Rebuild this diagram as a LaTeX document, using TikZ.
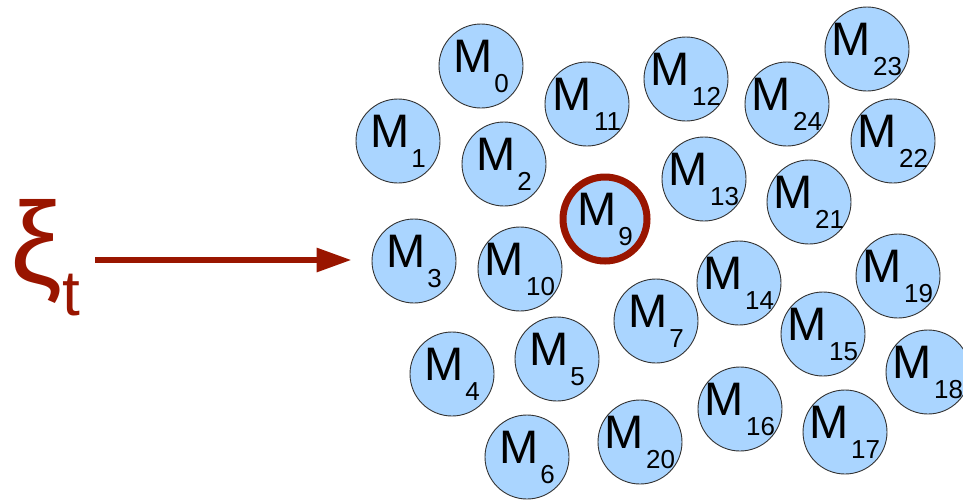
\documentclass[tikz,border=0pt]{standalone}
\usepackage{fontspec}
\setmainfont{Liberation Sans}
\usepackage{xcolor}
\usepackage{tikz}
\usetikzlibrary{arrows.meta}

\definecolor{celula}{RGB}{170,213,255}
\definecolor{vermelho}{RGB}{153,21,0}
\newcommand{\mlab}[1]{{\fontsize{47}{47}\selectfont M}\kern2pt\raisebox{-20pt}{\fontsize{26}{26}\selectfont #1}}

\tikzset{
  modulo/.style={circle, draw=black!80, line width=0.9pt, fill=celula,
    minimum size=84pt, inner sep=-8pt},
  ativo/.style={modulo, draw=vermelho, line width=7pt},
}

\begin{document}
\begin{tikzpicture}[x=1pt,y=-1pt]
  \useasboundingbox (0,0) rectangle (963,499);
  % modulos
  \node[modulo] (m0) at (481,66) {\mlab{0}};
  \node[modulo] (m1) at (398,141) {\mlab{1}};
  \node[modulo] (m2) at (504,164) {\mlab{2}};
  \node[modulo] (m3) at (414,261) {\mlab{3}};
  \node[modulo] (m4) at (452,374) {\mlab{4}};
  \node[modulo] (m5) at (557,359) {\mlab{5}};
  \node[modulo] (m6) at (527,457) {\mlab{6}};
  \node[modulo] (m7) at (656,321) {\mlab{7}};
  \node[ativo]  (m9) at (605,219) {\mlab{9}};
  \node[modulo] (m10) at (520,269) {\mlab{10}};
  \node[modulo] (m11) at (587,104) {\mlab{11}};
  \node[modulo] (m12) at (686,79) {\mlab{12}};
  \node[modulo] (m13) at (704,179) {\mlab{13}};
  \node[modulo] (m14) at (739,283) {\mlab{14}};
  \node[modulo] (m15) at (823,334) {\mlab{15}};
  \node[modulo] (m16) at (740,409) {\mlab{16}};
  \node[modulo] (m17) at (845,432) {\mlab{17}};
  \node[modulo] (m18) at (928,372) {\mlab{18}};
  \node[modulo] (m19) at (898,276) {\mlab{19}};
  \node[modulo] (m20) at (640,442) {\mlab{20}};
  \node[modulo] (m21) at (809,202) {\mlab{21}};
  \node[modulo] (m22) at (893,141) {\mlab{22}};
  \node[modulo] (m23) at (867,49) {\mlab{23}};
  \node[modulo] (m24) at (787,104) {\mlab{24}};
  % entrada
  \node[anchor=base west, inner sep=0pt, text=vermelho] (xi) at (10,283)
    {\fontsize{116}{116}\selectfont ξ\raisebox{-32pt}{\fontsize{64}{64}\selectfont t}};
  \coordinate (cauda) at (95,260);
  \draw[vermelho, line width=6pt, shorten >=20pt,
    -{Triangle[length=35pt,width=23pt]}] (cauda) -- (m3.west |- cauda);
\end{tikzpicture}
\end{document}
